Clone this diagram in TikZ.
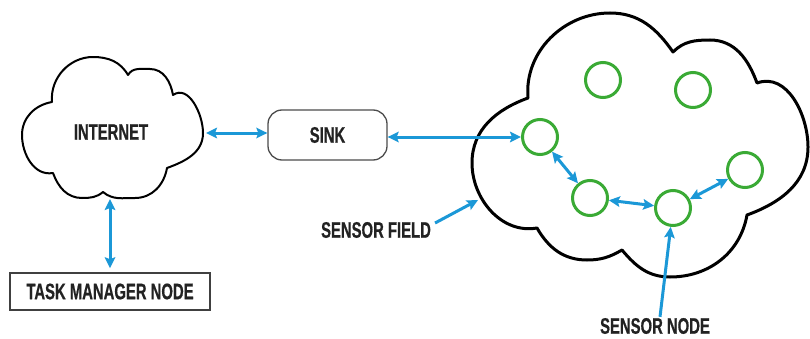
\documentclass[tikz,border=0pt]{standalone}
\usepackage{fontspec}
\newfontfamily\lblfont[FakeStretch=0.66,FakeBold=0.6]{Liberation Sans Bold}
\usetikzlibrary{arrows.meta}
\definecolor{arrowblue}{RGB}{27,152,215}
\definecolor{nodegreen}{RGB}{58,170,53}
\definecolor{txtgray}{RGB}{34,34,34}
\begin{document}
\begin{tikzpicture}[x=1pt,y=1pt,
  >={Stealth[length=11pt,width=10.5pt,inset=2pt]},
  lbl/.style={font=\lblfont\fontsize{22.5}{26}\selectfont, text=txtgray, inner sep=1pt},
  link/.style={draw=arrowblue, line width=3pt, <->},
  pointer/.style={draw=arrowblue, line width=3pt, ->},
  cloudline/.style={draw=black, line join=round, line cap=round},
  sensor/.style={circle, draw=nodegreen, line width=3pt, minimum size=35pt, inner sep=0pt},
  sinkbox/.style={lbl, draw=black!70, rounded corners=14pt, minimum width=119pt, minimum height=50pt, line width=1.3pt},
  taskbox/.style={lbl, draw=black!75, minimum width=200pt, minimum height=37pt, line width=1.5pt}]
\useasboundingbox[fill=white] (0,0) rectangle (810,338);

% Internet cloud
\draw[cloudline, line width=2pt]
  (52,236) to[out=95,in=180] (93,281) to[out=0,in=120] (128,263)
  to[out=60,in=180] (150,269) to[out=0,in=100] (173,243)
  to[out=35,in=90] (203,205) to[out=-90,in=20] (167,170)
  to[out=-100,in=0] (135,140) to[out=180,in=-40] (103,146)
  to[out=-140,in=0] (82,140) to[out=180,in=-70] (53,165)
  to[out=190,in=-90] (22,203) to[out=90,in=190] (52,236) -- cycle;

% Sensor field cloud
\draw[cloudline, line width=3pt]
  (528,240) to[out=95,in=180] (610,325) to[out=0,in=125] (673,286)
  to[out=45,in=180] (710,298) to[out=0,in=110] (757,255)
  to[out=20,in=90] (808,191) to[out=-90,in=20] (747,123)
  to[out=-100,in=0] (670,61) to[out=180,in=-50] (622,88)
  to[out=-150,in=0] (587,78) to[out=180,in=-60] (537,110)
  to[out=190,in=-90] (472,175) to[out=90,in=200] (528,240) -- cycle;

% Nodes
\node[lbl] (inet) at (111,206) {INTERNET};
\node[sinkbox] (sink) at (327.5,203) {SINK};
\node[taskbox] (task) at (110,46.5) {TASK MANAGER NODE};
\node[lbl] (sf) at (376,108) {SENSOR FIELD};
\node[lbl] (sn) at (655,12) {SENSOR NODE};

\node[sensor] (c1) at (603,258) {};
\node[sensor] (c2) at (693,248) {};
\node[sensor] (c3) at (540,201) {};
\node[sensor] (c4) at (590,140) {};
\node[sensor] (c5) at (673,130) {};
\node[sensor] (c6) at (745,168) {};

% Connectors
\coordinate (inetE) at (206,205);
\coordinate (inetS) at (110,139);
\coordinate (sfTip) at (478,138);

\draw[link] (inetE) -- (inetE -| sink.west);
\draw[link] (sink.east |- c3) -- (c3);
\draw[link, shorten >=4pt] (inetS) -- (inetS |- task.north);
\draw[link] (c3) -- (c4);
\draw[link] (c4) -- (c5);
\draw[link] (c5) -- (c6);
\draw[pointer] ([shift={(3pt,7pt)}]sf.east) -- (sfTip);
\draw[pointer] ([xshift=5pt]sn.north) -- (c5);
\end{tikzpicture}
\end{document}
